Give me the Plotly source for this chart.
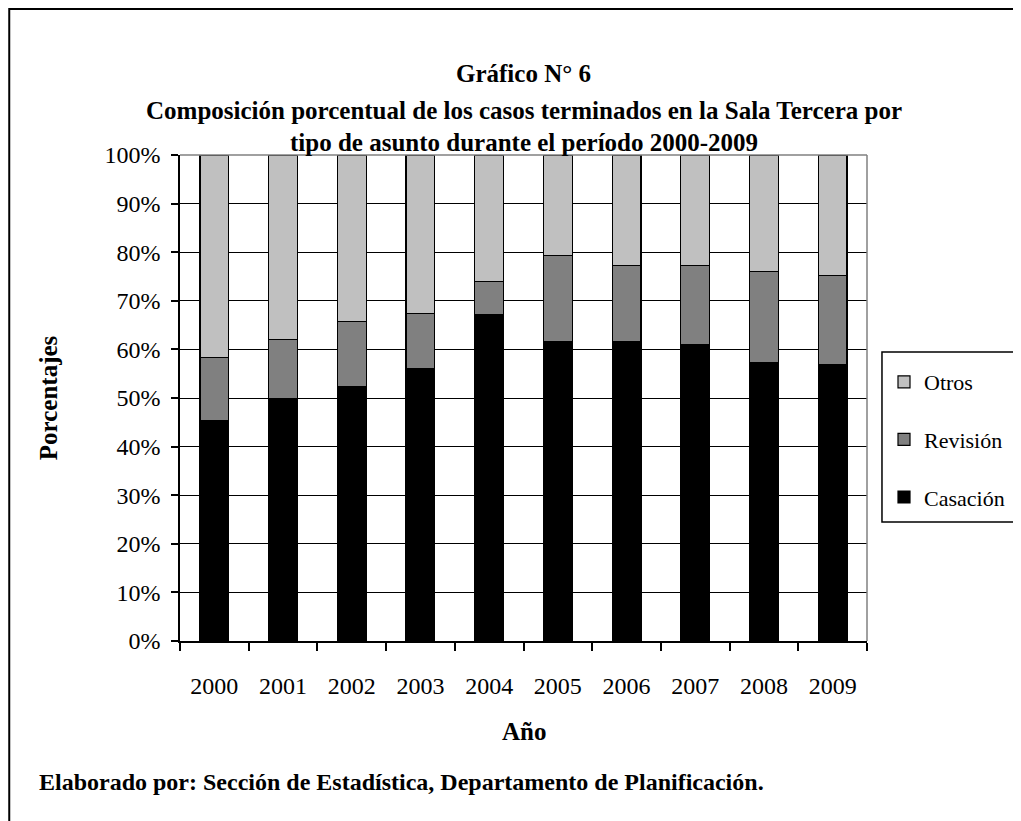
import plotly.graph_objects as go

years = ["2000", "2001", "2002", "2003", "2004", "2005", "2006", "2007", "2008", "2009"]
casacion = [45.3, 49.8, 52.3, 56.0, 67.2, 61.7, 61.7, 61.0, 57.3, 56.8]
revision = [13.0, 12.3, 13.4, 11.4, 6.7, 17.6, 15.5, 16.2, 18.8, 18.4]
otros = [round(100 - c - r, 1) for c, r in zip(casacion, revision)]

series = [("Casación", casacion, "#000000", 3),
          ("Revisión", revision, "#808080", 2),
          ("Otros", otros, "#C0C0C0", 1)]

FONT = "Liberation Serif"
OFF = 8  # page body margin
W, H = 1021 - OFF, 821 - OFF
L, R, T, B = 180 - OFF, 868 - OFF, 155 - OFF, 641 - OFF

fig = go.Figure()
for name, vals, col, rank in series:
    fig.add_trace(go.Bar(
        x=years, y=vals, name=name, legendgroup=name, legendrank=rank,
        marker=dict(color=col, line=dict(color="#000000", width=1.2)),
    ))

def px_x(x):
    return (x - OFF - L) / (R - L)

def px_y(y):
    return (B - (y - OFF)) / (B - T)

annots = [
    ("Gráfico N° 6", 524, 73, 25, "center"),
    ("Composición porcentual de los casos terminados en la Sala Tercera por", 524, 110, 25, "center"),
    ("tipo de asunto durante el período 2000-2009", 524, 143, 25, "center"),
    ("Año", 524, 731, 25, "center"),
    ("Elaborado por: Sección de Estadística, Departamento de Planificación.", 37, 782, 24, "left"),
]
ann_list = []
for text, x, y, size, anchor in annots:
    ann_list.append(dict(
        text=f"<b>{text}</b>",
        x=px_x(x), y=px_y(y), xref="paper", yref="paper",
        xanchor=anchor, yanchor="middle", showarrow=False,
        font=dict(family=FONT, size=size, color="#000000"),
    ))
ann_list.append(dict(
    text="<b>Porcentajes</b>", x=px_x(48), y=px_y(398), xref="paper", yref="paper",
    xanchor="center", yanchor="middle", showarrow=False, textangle=-90,
    font=dict(family=FONT, size=25, color="#000000"),
))

shapes = [
    # outer frame
    dict(type="rect", xref="paper", yref="paper",
         x0=px_x(OFF + 1), x1=px_x(1040), y0=px_y(840), y1=px_y(OFF + 1),
         line=dict(color="#000000", width=2), fillcolor="rgba(0,0,0,0)", layer="below"),
    # legend box
    dict(type="rect", xref="paper", yref="paper",
         x0=px_x(883), x1=px_x(1040), y0=px_y(522), y1=px_y(352),
         line=dict(color="#000000", width=1.5), fillcolor="rgba(0,0,0,0)"),
    # plot area top & right border (gray)
    dict(type="line", xref="paper", yref="paper", x0=0, x1=1, y0=1, y1=1,
         line=dict(color="#808080", width=1.5)),
    dict(type="line", xref="paper", yref="paper", x0=1, x1=1, y0=0, y1=1,
         line=dict(color="#808080", width=1.5)),
]

fig.update_layout(
    width=W, height=H,
    margin=dict(l=L, r=W - R, t=T, b=H - B, pad=0),
    barmode="stack", bargap=0.58,
    paper_bgcolor="#FFFFFF", plot_bgcolor="#FFFFFF",
    font=dict(family=FONT, size=20, color="#000000"),
    showlegend=True,
    legend=dict(
        x=px_x(884), y=px_y(361), xanchor="left", yanchor="top",
        traceorder="grouped", tracegroupgap=26,
        font=dict(family=FONT, size=22, color="#000000"),
        bgcolor="rgba(0,0,0,0)", itemwidth=30,
    ),
    annotations=ann_list,
    shapes=shapes,
)
fig.update_xaxes(
    type="category", showline=True, linecolor="#000000", linewidth=1.5,
    ticks="outside", tickson="boundaries", ticklen=8, tickcolor="#000000", tickwidth=1.5,
    showgrid=False, tickfont=dict(family=FONT, size=24), ticklabelstandoff=22,
    automargin=False,
)
fig.update_yaxes(
    range=[0, 100], tickvals=[0, 10, 20, 30, 40, 50, 60, 70, 80, 90, 100],
    ticktext=[f"{v}%" for v in range(0, 101, 10)],
    showline=True, linecolor="#000000", linewidth=1.5,
    ticks="outside", ticklen=7, tickcolor="#000000", tickwidth=1.5,
    showgrid=True, gridcolor="#000000", gridwidth=1.2,
    tickfont=dict(family=FONT, size=24), zeroline=False, ticklabelstandoff=6,
    automargin=False,
)

fig.write_html("out.html")
